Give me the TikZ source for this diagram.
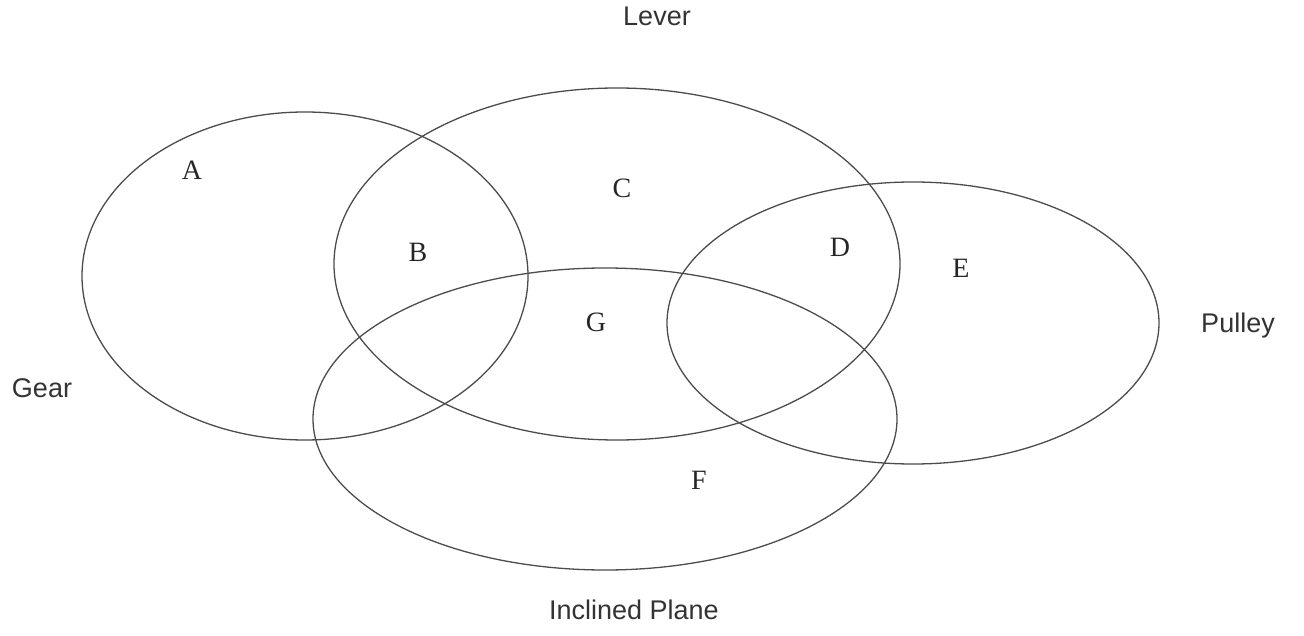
\documentclass[tikz,border=0pt]{standalone}
\usepackage{fontspec}
\setmainfont{Liberation Serif}
\setsansfont{Liberation Sans}
\usetikzlibrary{positioning}

\begin{document}
\begin{tikzpicture}[
  x=1pt, y=-1pt,
  set/.style={draw=black!70, line width=1.3pt},
  setname/.style={font=\sffamily\fontsize{27}{30}\selectfont, text=black!80},
  region/.style={font=\fontsize{28}{30}\selectfont, text=black!85}
]
  \useasboundingbox (0,0) rectangle (1304,636);
  % the four sets
  \coordinate (gearc) at (305,276);
  \coordinate (leverc) at (617,264);
  \coordinate (planec) at (605,419);
  \coordinate (pulleyc) at (913,323);
  \draw[set] (gearc) ellipse [x radius=223, y radius=164];
  \draw[set] (leverc) ellipse [x radius=283, y radius=176];
  \draw[set] (planec) ellipse [x radius=292, y radius=151];
  \draw[set] (pulleyc) ellipse [x radius=246, y radius=141];
  % set names
  \node[setname] (lever) at (657,16) {Lever};
  \node[setname] (gear) at (42,388) {Gear};
  \node[setname] (pulley) at (1238,326) {Pulley};
  \node[setname] (plane) at (634,610) {Inclined Plane};
  % regions
  \node[region] (ra) at (192,170) {A};
  \node[region] (rb) at (418,252) {B};
  \node[region] (rc) at (622,188) {C};
  \node[region] (rd) at (840,247) {D};
  \node[region] (re) at (961,268) {E};
  \node[region] (rg) at (596,322) {G};
  \node[region] (rf) at (699,480) {F};
\end{tikzpicture}
\end{document}
